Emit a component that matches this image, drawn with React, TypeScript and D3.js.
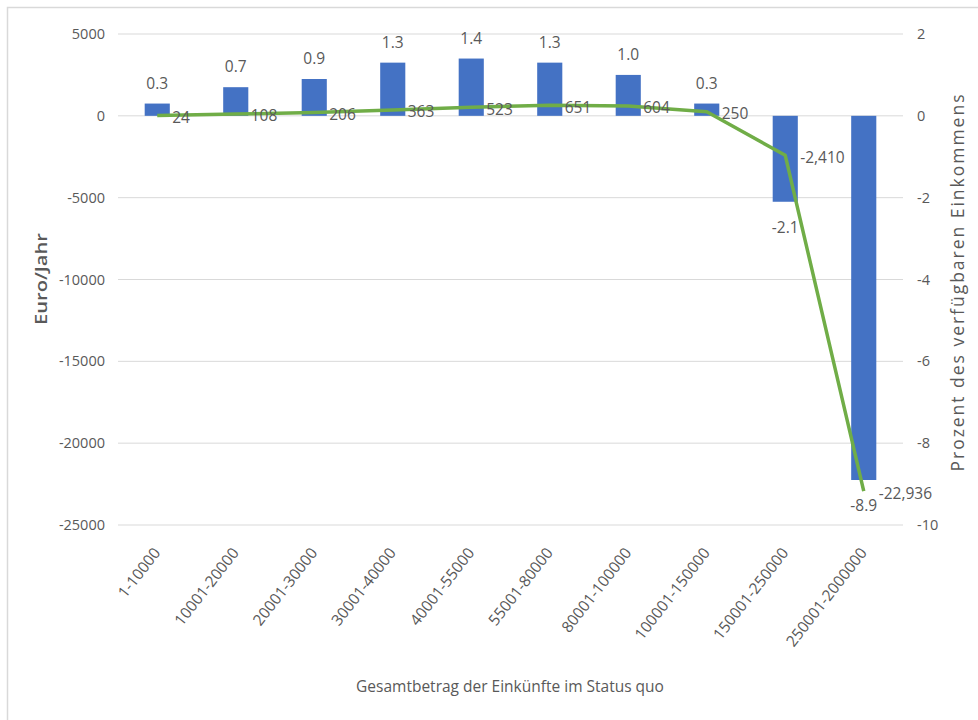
import React from "react";
import * as d3 from "d3";

const categories = [
  "1-10000",
  "10001-20000",
  "20001-30000",
  "30001-40000",
  "40001-55000",
  "55001-80000",
  "80001-100000",
  "100001-150000",
  "150001-250000",
  "250001-2000000",
];
// Bars: percent of disposable income (right axis)
const percentValues = [0.3, 0.7, 0.9, 1.3, 1.4, 1.3, 1.0, 0.3, -2.1, -8.9];
// Line: Euro per year (left axis)
const euroValues = [24, 108, 206, 363, 523, 651, 604, 250, -2410, -22936];
const leftTicks = [5000, 0, -5000, -10000, -15000, -20000, -25000];
const rightTicks = [2, 0, -2, -4, -6, -8, -10];

const FONT = "'Open Sans', 'Noto Sans', sans-serif";
const TEXT = "#595959";

export default function App() {
  const x0 = 118;
  const x1 = 903;
  const yTop = 34;
  const yBottom = 525;

  const x = d3.scaleBand<string>().domain(categories).range([x0, x1]).padding(0);
  const yL = d3.scaleLinear().domain([-25000, 5000]).range([yBottom, yTop]);
  const yR = d3.scaleLinear().domain([-10, 2]).range([yBottom, yTop]);
  const bw = x.bandwidth() * 0.32;
  const cx = (c: string) => (x(c) as number) + x.bandwidth() / 2;

  const line = d3
    .line<number>()
    .x((_, i) => cx(categories[i]))
    .y((d) => yL(d));

  const loc = d3.formatLocale({ decimal: ".", thousands: ",", grouping: [3], currency: ["", ""], minus: "-" });
  const fmtEuro = loc.format(",");
  const fmtPct = loc.format(".1f");

  return (
    <svg
      width={978}
      height={720}
      style={{ position: "absolute", left: 0, top: 0, background: "#fff" }}
      fontFamily={FONT}
    >
      <rect x={0} y={0} width={978} height={720} fill="#fff" />
      {/* frame */}
      <path d="M7.5,720 V7.5 H978" fill="none" stroke="#d9d9d9" strokeWidth={1.5} />

      {/* gridlines */}
      {leftTicks.map((t) => (
        <line key={t} x1={x0} x2={x1} y1={yL(t)} y2={yL(t)} stroke="#d9d9d9" strokeWidth={1} />
      ))}

      {/* left tick labels */}
      {leftTicks.map((t) => (
        <text key={t} x={105} y={yL(t)} dy="0.35em" textAnchor="end" fontSize={14.5} fill={TEXT}>
          {t}
        </text>
      ))}
      {/* right tick labels */}
      {rightTicks.map((t) => (
        <text key={t} x={917} y={yR(t)} dy="0.35em" textAnchor="start" fontSize={14.5} fill={TEXT}>
          {t}
        </text>
      ))}

      {/* bars */}
      {percentValues.map((v, i) => {
        const c = categories[i];
        const y0 = yR(0);
        const yv = yR(v);
        return (
          <rect
            key={c}
            x={cx(c) - bw / 2}
            y={Math.min(y0, yv)}
            width={bw}
            height={Math.abs(yv - y0)}
            fill="#4472c4"
          />
        );
      })}

      {/* line */}
      <path d={line(euroValues) || ""} fill="none" stroke="#70ad47" strokeWidth={3.5} strokeLinejoin="round" />

      {/* bar labels */}
      {percentValues.map((v, i) => {
        const c = categories[i];
        const yv = yR(v);
        return (
          <text
            key={c}
            x={cx(c)}
            y={v >= 0 ? yv - 15 : yv + 31}
            textAnchor="middle"
            fontSize={15.5}
            fill={TEXT}
          >
            {fmtPct(v)}
          </text>
        );
      })}

      {/* line labels */}
      {euroValues.map((v, i) => {
        const c = categories[i];
        return (
          <text key={c} x={cx(c) + 15} y={yL(v) + 2} dy="0.35em" textAnchor="start" fontSize={15.5} fill={TEXT}>
            {fmtEuro(v)}
          </text>
        );
      })}

      {/* x category labels */}
      {categories.map((c) => {
        const ax = cx(c) + 4;
        const ay = 553;
        return (
          <text
            key={c}
            x={ax}
            y={ay}
            transform={`rotate(-52, ${ax}, ${ay})`}
            textAnchor="end"
            fontSize={15.5}
            fill={TEXT}
          >
            {c}
          </text>
        );
      })}

      {/* axis titles */}
      <text
        x={41}
        y={279}
        transform="rotate(-90, 41, 279)"
        textAnchor="middle"
        dy="0.35em"
        fontSize={17}
        fontWeight={600}
        fill={TEXT}
        textLength={92}
        lengthAdjust="spacingAndGlyphs"
      >
        Euro/Jahr
      </text>
      <text
        x={958}
        y={283}
        transform="rotate(-90, 958, 283)"
        textAnchor="middle"
        dy="0.35em"
        fontSize={17.5}
        fill={TEXT}
        textLength={377}
        lengthAdjust="spacing"
      >
        Prozent des verfügbaren Einkommens
      </text>
      <text x={510} y={692} textAnchor="middle" fontSize={15.5} fill={TEXT}>
        Gesamtbetrag der Einkünfte im Status quo
      </text>
    </svg>
  );
}
